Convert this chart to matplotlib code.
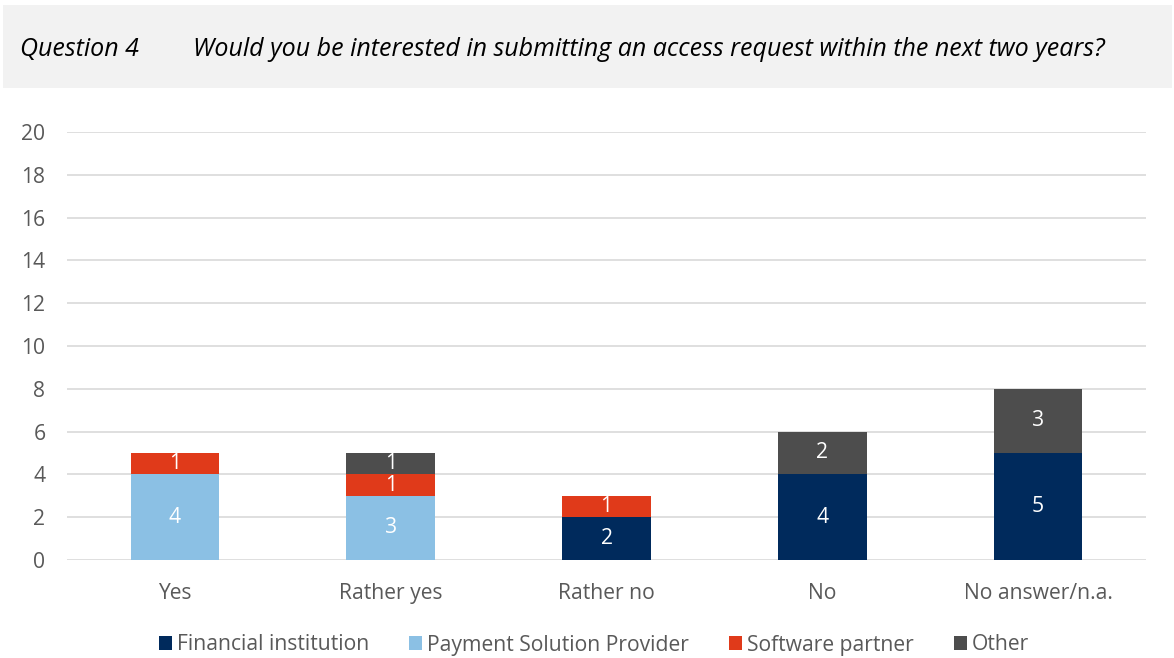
import numpy as np
import matplotlib.pyplot as plt
from matplotlib.patches import Rectangle

plt.rcParams['font.family'] = ['Open Sans', 'DejaVu Sans']

categories = ['Yes', 'Rather yes', 'Rather no', 'No', 'No answer/n.a.']
financial = [0, 0, 2, 4, 5]
payment = [4, 3, 0, 0, 0]
software = [1, 1, 1, 0, 0]
other = [0, 1, 0, 2, 3]

series = [
    ('Financial institution', financial, '#002a5c'),
    ('Payment Solution Provider', payment, '#8bc0e4'),
    ('Software partner', software, '#e03a1a'),
    ('Other', other, '#4d4d4d'),
]

text_grey = '#595959'
fs = 15.2

fig = plt.figure(figsize=(11.74, 6.58), dpi=100)

# header band with the question
fig.patches.append(Rectangle((3 / 1174, 1 - 88 / 658), 1169 / 1174, 83 / 658,
                             transform=fig.transFigure, facecolor='#f2f2f2',
                             edgecolor='none', zorder=0))
fig.text(20 / 1174, 1 - 49 / 658, 'Question 4', style='italic', fontsize=18,
         color='black', va='center')
fig.text(193 / 1174, 1 - 49 / 658,
         'Would you be interested in submitting an access request within the next two years?',
         style='italic', fontsize=18, color='black', va='center')

ax = fig.add_axes([67 / 1174, 1 - 560 / 658, 1079 / 1174, 428 / 658])
x = np.arange(len(categories))
bottom = np.zeros(len(categories))
handles = []
for name, vals, col in series:
    vals = np.array(vals, dtype=float)
    bars = ax.bar(x, vals, width=0.41, bottom=bottom, color=col, label=name, zorder=3)
    handles.append(bars)
    for xi, v, b in zip(x, vals, bottom):
        if v > 0:
            ax.text(xi, b + v / 2, f'{int(v)}', ha='center', va='center',
                    color='white', fontsize=fs, zorder=4)
    bottom += vals

ax.set_xlim(-0.5, len(categories) - 0.5)
ax.set_ylim(0, 20)
ax.set_yticks(range(0, 21, 2))
ax.set_xticks(x)
ax.set_xticklabels(categories)
ax.tick_params(axis='both', length=0, labelsize=fs, labelcolor=text_grey)
ax.tick_params(axis='y', pad=15.5)
ax.tick_params(axis='x', pad=16.5)
ax.grid(axis='y', color='#d9d9d9', linewidth=1.2, zorder=0)
for s in ax.spines.values():
    s.set_visible(False)

fig.legend(handles=handles, loc='center', bbox_to_anchor=(594 / 1174, 1 - 645 / 658),
           ncol=4, frameon=False, fontsize=fs, handlelength=0.6, handleheight=0.6,
           handletextpad=0.25, columnspacing=1.9, labelcolor=text_grey)

fig.savefig('out.png', dpi=100)
